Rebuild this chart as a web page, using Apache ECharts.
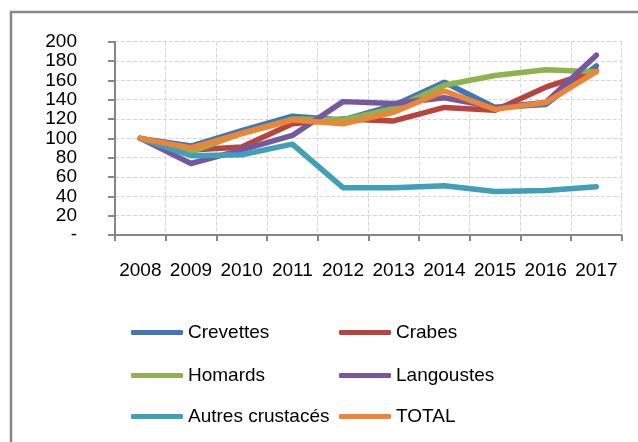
<!DOCTYPE html>
<html>
<head>
<meta charset="utf-8">
<script src="https://cdn.jsdelivr.net/npm/echarts@6/dist/echarts.min.js"></script>
<style>
html,body{margin:0;padding:0;background:#fff;}
#main{width:638px;height:442px;}
</style>
</head>
<body>
<div id="main"></div>
<script>
var categories = ['2008','2009','2010','2011','2012','2013','2014','2015','2016','2017'];
var seriesNames = ['Crevettes','Crabes','Homards','Langoustes','Autres crustacés','TOTAL'];
var crevettes = [100, 92, 108, 123, 119, 134, 158, 132, 135, 175];
var crabes = [100, 88, 91, 115, 120, 118, 132, 129, 153, 170];
var homards = [100, 86, 105, 120, 119, 131, 155, 165, 171, 169];
var langoustes = [100, 74, 88, 103, 138, 136, 142, 132, 137, 186];
var autres = [100, 82, 83, 94, 49, 49, 51, 45, 46, 50];
var total = [100, 90, 105, 119, 115, 127, 149, 130, 137, 169];
var yTicks = [0, 200, 20];

var colors = ['#4177B5','#B84440','#8DB24F','#7658A0','#409FB9','#EC8535'];
var seriesData = [crevettes, crabes, homards, langoustes, autres, total];
var FONT = 'Liberation Sans';
var FS = 19;

var chart = echarts.init(document.getElementById('main'));

var legendPos = [
  {left:131, top:333}, {left:339, top:333},
  {left:131, top:376}, {left:339, top:376},
  {left:131, top:417}, {left:339, top:417}
];
var legends = seriesNames.map(function(n, i){
  return {
    data:[n], left:legendPos[i].left, top:legendPos[i].top - 10,
    orient:'horizontal', padding:0, itemWidth:52, itemHeight:5,
    icon:'roundRect', selectedMode:false,
    textStyle:{fontFamily:FONT, fontSize:FS, color:'#000'}
  };
});

chart.setOption({
  animation:false,
  color:colors,
  textStyle:{fontFamily:FONT},
  graphic:[{type:'rect', shape:{x:11, y:12, width:700, height:520}, style:{fill:'none', stroke:'#878787', lineWidth:2.5}, silent:true, z:-1}],
  legend:legends,
  grid:{left:115, top:41.7, right:16.3, bottom:207, containLabel:false},
  xAxis:{
    type:'category', data:categories, boundaryGap:true,
    axisLine:{show:true, lineStyle:{color:'#868686', width:2}},
    axisTick:{show:true, length:6, interval:0, lineStyle:{color:'#868686', width:2}},
    axisLabel:{interval:0, margin:26, fontFamily:FONT, fontSize:FS, color:'#000'},
    splitLine:{show:true, interval:0, lineStyle:{color:'#d6d6d6', type:'dashed', width:1}}
  },
  yAxis:{
    type:'value', min:yTicks[0], max:yTicks[1], interval:yTicks[2],
    axisLine:{show:true, lineStyle:{color:'#868686', width:2}},
    axisTick:{show:true, length:7, lineStyle:{color:'#868686', width:2}},
    axisLabel:{margin:38, fontFamily:FONT, fontSize:FS, color:'#000',
      formatter:function(v){ return v === 0 ? '-' : String(v); }},
    splitLine:{show:true, lineStyle:{color:'#d6d6d6', type:'dashed', width:1}}
  },
  series:seriesNames.map(function(n, i){
    return {
      name:n, type:'line', data:seriesData[i], symbol:'none', smooth:false,
      lineStyle:{width:5.5, color:colors[i], cap:'round', join:'round'},
      itemStyle:{color:colors[i]}
    };
  })
});
</script>
</body>
</html>
